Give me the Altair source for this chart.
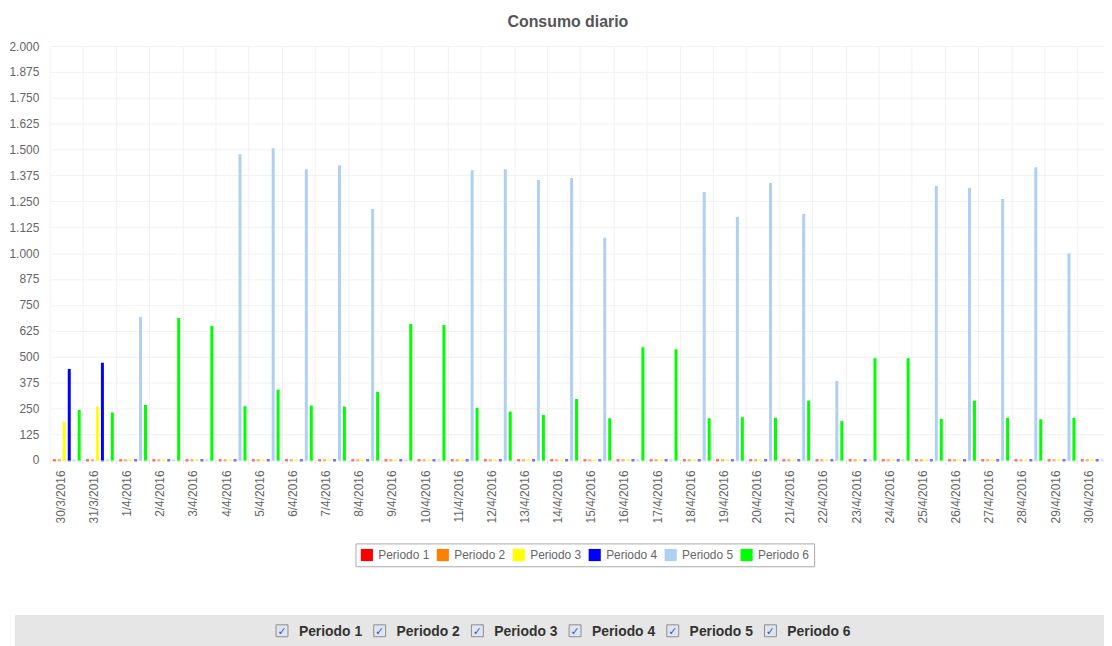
import altair as alt
import pandas as pd

fechas = ["30/3/2016", "31/3/2016"] + [f"{d}/4/2016" for d in range(1, 31)]
periodos = ["Periodo 1", "Periodo 2", "Periodo 3", "Periodo 4", "Periodo 5", "Periodo 6"]
colores = ["#ff0000", "#ff8000", "#ffff00", "#0000ff", "#afd0f3", "#00ff00"]

p1 = [0, 0, 0, 0, 0, 0, 0, 0, 0, 0, 0, 0, 0, 0, 0, 0, 0, 0, 0, 0, 0, 0, 0, 0, 0, 0, 0, 0, 0, 0, 0, 0]
p2 = [0, 0, 0, 0, 0, 0, 0, 0, 0, 0, 0, 0, 0, 0, 0, 0, 0, 0, 0, 0, 0, 0, 0, 0, 0, 0, 0, 0, 0, 0, 0, 0]
p3 = [185, 258, 0, 0, 0, 0, 0, 0, 0, 0, 0, 0, 0, 0, 0, 0, 0, 0, 0, 0, 0, 0, 0, 0, 0, 0, 0, 0, 0, 0, 0, 0]
p4 = [440, 470, 0, 0, 0, 0, 0, 0, 0, 0, 0, 0, 0, 0, 0, 0, 0, 0, 0, 0, 0, 0, 0, 0, 0, 0, 0, 0, 0, 0, 0, 0]
p5 = [0, 0, 691, 0, 0, 1477, 1506, 1405, 1424, 1213, 0, 0, 1400, 1405, 1353, 1362,
      1074, 0, 0, 1295, 1175, 1338, 1189, 382, 0, 0, 1324, 1314, 1261, 1415, 998, 0]
p6 = [242, 230, 266, 686, 648, 260, 340, 263, 258, 330, 657, 652, 252, 234, 218, 295,
      202, 545, 535, 202, 207, 204, 287, 188, 492, 492, 199, 287, 204, 197, 204, 0]
series = [p1, p2, p3, p4, p5, p6]

rows = []
for fi, f in enumerate(fechas):
    for pi, p in enumerate(periodos):
        rows.append({"fecha": f, "periodo": p, "valor": series[pi][fi]})
df = pd.DataFrame(rows)

W = 1062
H = 417
STEP = 33.4
N = len(fechas)
FONT = "Liberation Sans"

x_scale = alt.Scale(range=[1.5, STEP * N + 1.5], paddingInner=0, paddingOuter=0)
xoff_enc = alt.XOffset("periodo:N", sort=periodos,
                       scale=alt.Scale(paddingInner=0.4, paddingOuter=0.54))
color_enc = alt.Color("periodo:N", sort=periodos,
                      scale=alt.Scale(domain=periodos, range=colores),
                      legend=alt.Legend(title=None, orient="none", legendX=309, legendY=501,
                                        direction="horizontal", columns=6,
                                        symbolType="square", symbolSize=150,
                                        symbolStrokeWidth=0, symbolOpacity=1,
                                        labelFontSize=12, labelColor="#666666",
                                        labelFont=FONT, strokeColor="#aaaaaa",
                                        fillColor="white", padding=5,
                                        columnPadding=6.5, labelOffset=5))

bars = alt.Chart(df).mark_bar().encode(
    x=alt.X("fecha:N", sort=fechas, scale=x_scale,
            axis=alt.Axis(title=None, labelAngle=-90, bandPosition=0, labelOffset=-6,
                          grid=True, gridColor="#f1f1f1", domain=False, ticks=True,
                          tickSize=4, tickColor="#e4e4e4", labelColor="#666666",
                          labelFont=FONT, labelFontSize=12, labelPadding=6)),
    xOffset=xoff_enc,
    y=alt.Y("valor:Q", scale=alt.Scale(domain=[0, 2000], nice=False),
            axis=alt.Axis(title=None, values=list(range(0, 2001, 125)),
                          labelExpr="replace(format(datum.value, ','), ',', '.')",
                          grid=True, gridColor="#f1f1f1", domain=False, ticks=False,
                          labelPadding=10, labelColor="#666666", labelFont=FONT,
                          labelFontSize=12)),
    color=color_enc,
)

# small base marks drawn at the zero line for every bar (visible where value is 0)
dots = alt.Chart(df).mark_bar(opacity=0.55).encode(
    x=alt.X("fecha:N", sort=fechas, scale=x_scale, axis=None),
    xOffset=xoff_enc,
    y=alt.value(H - 1),
    y2=alt.value(H + 1.5),
    color=color_enc,
)

bg_df = pd.DataFrame({"k": [0]})
bg = alt.Chart(bg_df).mark_rect(color="#e6e6e6").encode(
    x=alt.value(-34), x2=alt.value(1100), y=alt.value(573), y2=alt.value(610)
)

chk_df = pd.DataFrame({"item": periodos})
chk_x = alt.X("item:N", sort=periodos,
              scale=alt.Scale(type="point", range=[235, 235 + 5 * 98.4], padding=0),
              axis=None)
boxes = alt.Chart(chk_df).mark_square(size=144, filled=True, color="#dfe5ef",
                                      stroke="#8c8c8c", strokeWidth=1, opacity=1).encode(
    x=chk_x, y=alt.value(589)
)
ticks_chk = alt.Chart(chk_df).mark_text(text="✓", fontSize=11, color="#2f55c0",
                                        font="DejaVu Sans", fontWeight="bold").encode(
    x=chk_x, y=alt.value(590)
)
labels_chk = alt.Chart(chk_df).mark_text(align="left", baseline="middle", dx=17,
                                         fontSize=14, fontWeight="bold", font=FONT,
                                         color="#333333").encode(
    x=chk_x, y=alt.value(590), text="item:N"
)

chart = alt.layer(dots, bars, bg, boxes, ticks_chk, labels_chk).resolve_scale(
    x="independent"
).properties(
    width=W, height=H,
    padding={"left": 41, "top": 36, "right": 1, "bottom": 185},
    autosize=alt.AutoSizeParams(type="none"),
    title=alt.TitleParams("Consumo diario", fontSize=16, fontWeight="bold", font=FONT,
                          color="#555555", anchor="middle", dx=-8, offset=10),
).configure_view(stroke=None)

chart.save("out.html", embed_options={"renderer": "svg", "actions": False})
